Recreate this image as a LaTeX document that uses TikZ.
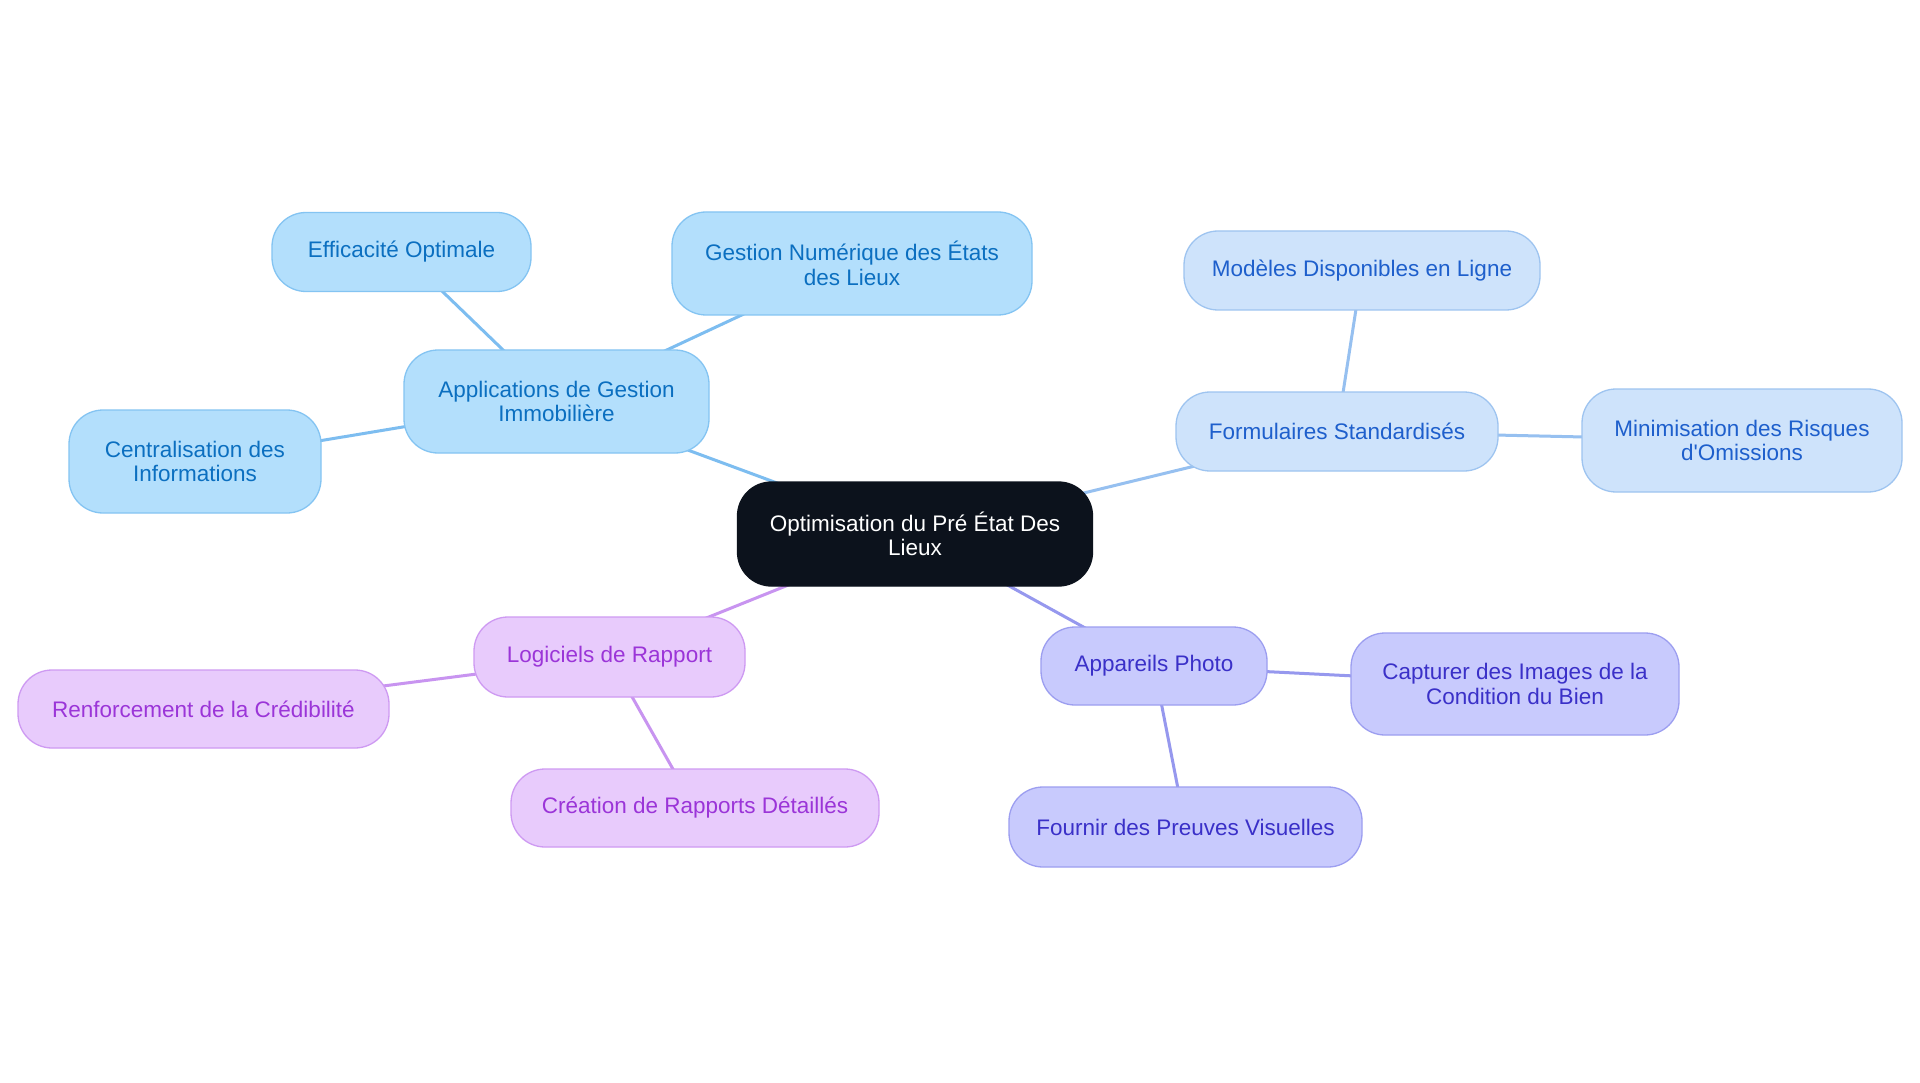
\documentclass[tikz,border=0pt]{standalone}
\usepackage{fontspec}
\setmainfont{Liberation Sans}[Ligatures=TeXOff]
\pgfdeclarelayer{bg}
\pgfdeclarelayer{edges}
\pgfsetlayers{bg,edges,main}
\definecolor{cfill}{HTML}{0C121C}
\definecolor{bfill}{HTML}{B3DFFC}
\definecolor{bdraw}{HTML}{84C4F2}
\definecolor{btext}{HTML}{0B6FC0}
\definecolor{bline}{HTML}{7DBDF0}
\definecolor{ffill}{HTML}{CEE3FB}
\definecolor{fdraw}{HTML}{9EC4F0}
\definecolor{ftext}{HTML}{1E5FCC}
\definecolor{fline}{HTML}{96C0F0}
\definecolor{pfill}{HTML}{E8CBFC}
\definecolor{pdraw}{HTML}{CE9AF2}
\definecolor{ptext}{HTML}{9B35D8}
\definecolor{pline}{HTML}{C894F0}
\definecolor{vfill}{HTML}{C8CAFD}
\definecolor{vdraw}{HTML}{9C9EF0}
\definecolor{vtext}{HTML}{3A30C8}
\definecolor{vline}{HTML}{9698EE}
\tikzset{
  box/.style={rectangle, rounded corners=34pt, line width=1.3pt, align=center,
    inner sep=0pt, font=\fontsize{22.5}{24.5}\selectfont},
  cbox/.style={box, fill=cfill, draw=cfill, text=white},
  bbox/.style={box, fill=bfill, draw=bdraw, text=btext},
  fbox/.style={box, fill=ffill, draw=fdraw, text=ftext},
  pbox/.style={box, fill=pfill, draw=pdraw, text=ptext},
  vbox/.style={box, fill=vfill, draw=vdraw, text=vtext},
  sz/.style 2 args={minimum width=#1pt, minimum height=#2pt},
  link/.style={line width=3pt}
}
\begin{document}
\begin{tikzpicture}[x=1pt,y=-1pt]
\begin{pgfonlayer}{bg}
\fill[white] (0,0) rectangle (1920,1083);
\end{pgfonlayer}
\useasboundingbox (0,0) rectangle (1920,1083);

\node[cbox, sz={355}{104}] (c) at (915,534) {Optimisation du Pré État Des\\Lieux};

\node[bbox, sz={305}{103}] (app) at (556.5,401.5) {Applications de Gestion\\Immobilière};
\node[bbox, sz={259}{79}] (eff) at (401.5,252) {Efficacité Optimale};
\node[bbox, sz={360}{103}] (gest) at (852,263.5) {Gestion Numérique des États\\des Lieux};
\node[bbox, sz={252}{103}] (cent) at (195,461.5) {Centralisation des\\Informations};

\node[fbox, sz={322}{79}] (form) at (1337,431.5) {Formulaires Standardisés};
\node[fbox, sz={356}{79}] (mod) at (1362,270.5) {Modèles Disponibles en Ligne};
\node[fbox, sz={320}{103}] (mini) at (1742,440.5) {Minimisation des Risques\\d'Omissions};

\node[pbox, sz={271}{80}] (log) at (609.5,657) {Logiciels de Rapport};
\node[pbox, sz={371}{78}] (renf) at (203.5,709) {Renforcement de la Crédibilité};
\node[pbox, sz={368}{78}] (crea) at (695,808) {Création de Rapports Détaillés};

\node[vbox, sz={226}{78}] (appa) at (1154,666) {Appareils Photo};
\node[vbox, sz={328}{102}] (capt) at (1515,684) {Capturer des Images de la\\Condition du Bien};
\node[vbox, sz={353}{80}] (four) at (1185.5,827) {Fournir des Preuves Visuelles};

\begin{pgfonlayer}{edges}
\draw[link, bline] (c.center) -- (app.center);
\draw[link, bline] (app.center) -- (eff.center);
\draw[link, bline] (app.center) -- (gest.center);
\draw[link, bline] (app.center) -- (cent.center);
\draw[link, fline] (c.center) -- (form.center);
\draw[link, fline] (form.center) -- (mod.center);
\draw[link, fline] (form.center) -- (mini.center);
\draw[link, pline] (c.center) -- (log.center);
\draw[link, pline] (log.center) -- (renf.center);
\draw[link, pline] (log.center) -- (crea.center);
\draw[link, vline] (c.center) -- (appa.center);
\draw[link, vline] (appa.center) -- (capt.center);
\draw[link, vline] (appa.center) -- (four.center);
\end{pgfonlayer}
\end{tikzpicture}
\end{document}
